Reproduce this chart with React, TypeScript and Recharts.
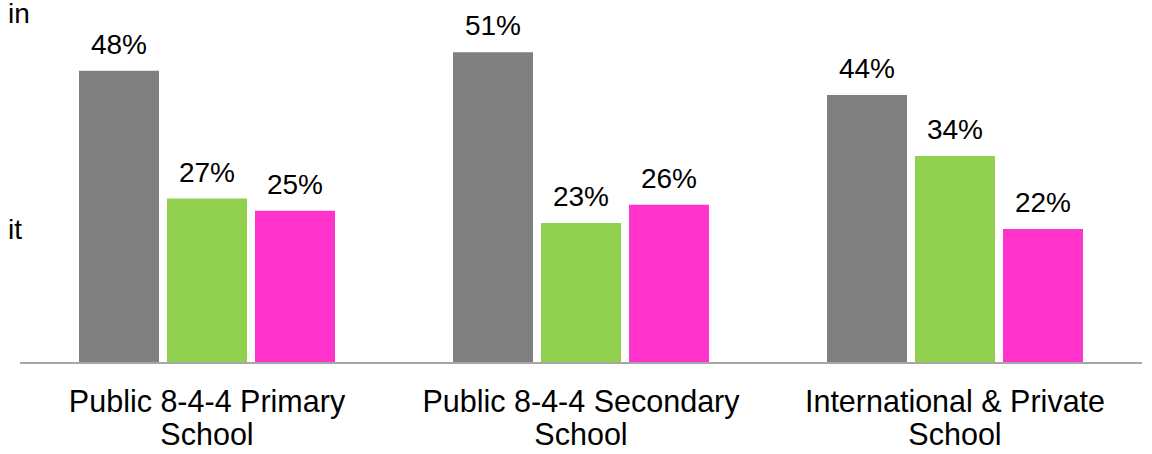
import { Bar, BarChart, LabelList, XAxis, YAxis } from 'recharts';

const categories = ['Public 8-4-4 Primary School', 'Public 8-4-4 Secondary School', 'International & Private School'];
const greySeries = [48, 51, 44];
const greenSeries = [27, 23, 34];
const pinkSeries = [25, 26, 22];

// clipped text fragments on the left edge of the original slide
const sideNotes = [
    { text: 'in', top: 24 },
    { text: 'it', top: 240 },
];

const data = categories.map((name, i) => ({
    name,
    grey: greySeries[i],
    green: greenSeries[i],
    pink: pinkSeries[i],
}));

const font = '"Liberation Sans", Arial, sans-serif';

const CategoryTick = (props: any) => {
    const { x, y, payload } = props;
    const words = String(payload.value).split(' ');
    const last = words.pop();
    return (
        <text x={x} y={y} textAnchor="middle" fill="#000" fontSize={30.5} fontFamily={font}>
            <tspan x={x} dy={49}>
                {words.join(' ')}
            </tspan>
            <tspan x={x} dy={33}>
                {last}
            </tspan>
        </text>
    );
};

const pct = (v: any) => `${v}%`;

const App = () => {
    return (
        <div style={{ position: 'absolute', left: 0, top: 0, width: 1152, height: 454, background: '#fff' }}>
            {sideNotes.map((n) => (
                <div
                    key={n.text}
                    style={{
                        position: 'absolute',
                        left: 8,
                        top: n.top - 26,
                        fontFamily: font,
                        fontSize: 28,
                        lineHeight: '32px',
                        color: '#000',
                    }}
                >
                    {n.text}
                </div>
            ))}
            <BarChart
                width={1152}
                height={454}
                data={data}
                margin={{ top: 28, right: 10, left: 20, bottom: 0 }}
                barSize={80}
                barGap={8}
            >
                <YAxis hide domain={[0, 55]} />
                <XAxis
                    dataKey="name"
                    height={91}
                    axisLine={{ stroke: '#a6a6a6', strokeWidth: 2 }}
                    tickLine={false}
                    tickSize={0}
                    tickMargin={0}
                    interval={0}
                    tick={<CategoryTick />}
                />
                <Bar dataKey="grey" fill="#808080" isAnimationActive={false}>
                    <LabelList dataKey="grey" position="top" offset={17} formatter={pct} fill="#000" fontSize={28} fontFamily={font} />
                </Bar>
                <Bar dataKey="green" fill="#92d050" isAnimationActive={false}>
                    <LabelList dataKey="green" position="top" offset={17} formatter={pct} fill="#000" fontSize={28} fontFamily={font} />
                </Bar>
                <Bar dataKey="pink" fill="#ff33cc" isAnimationActive={false}>
                    <LabelList dataKey="pink" position="top" offset={17} formatter={pct} fill="#000" fontSize={28} fontFamily={font} />
                </Bar>
            </BarChart>
        </div>
    );
};

export default App;
